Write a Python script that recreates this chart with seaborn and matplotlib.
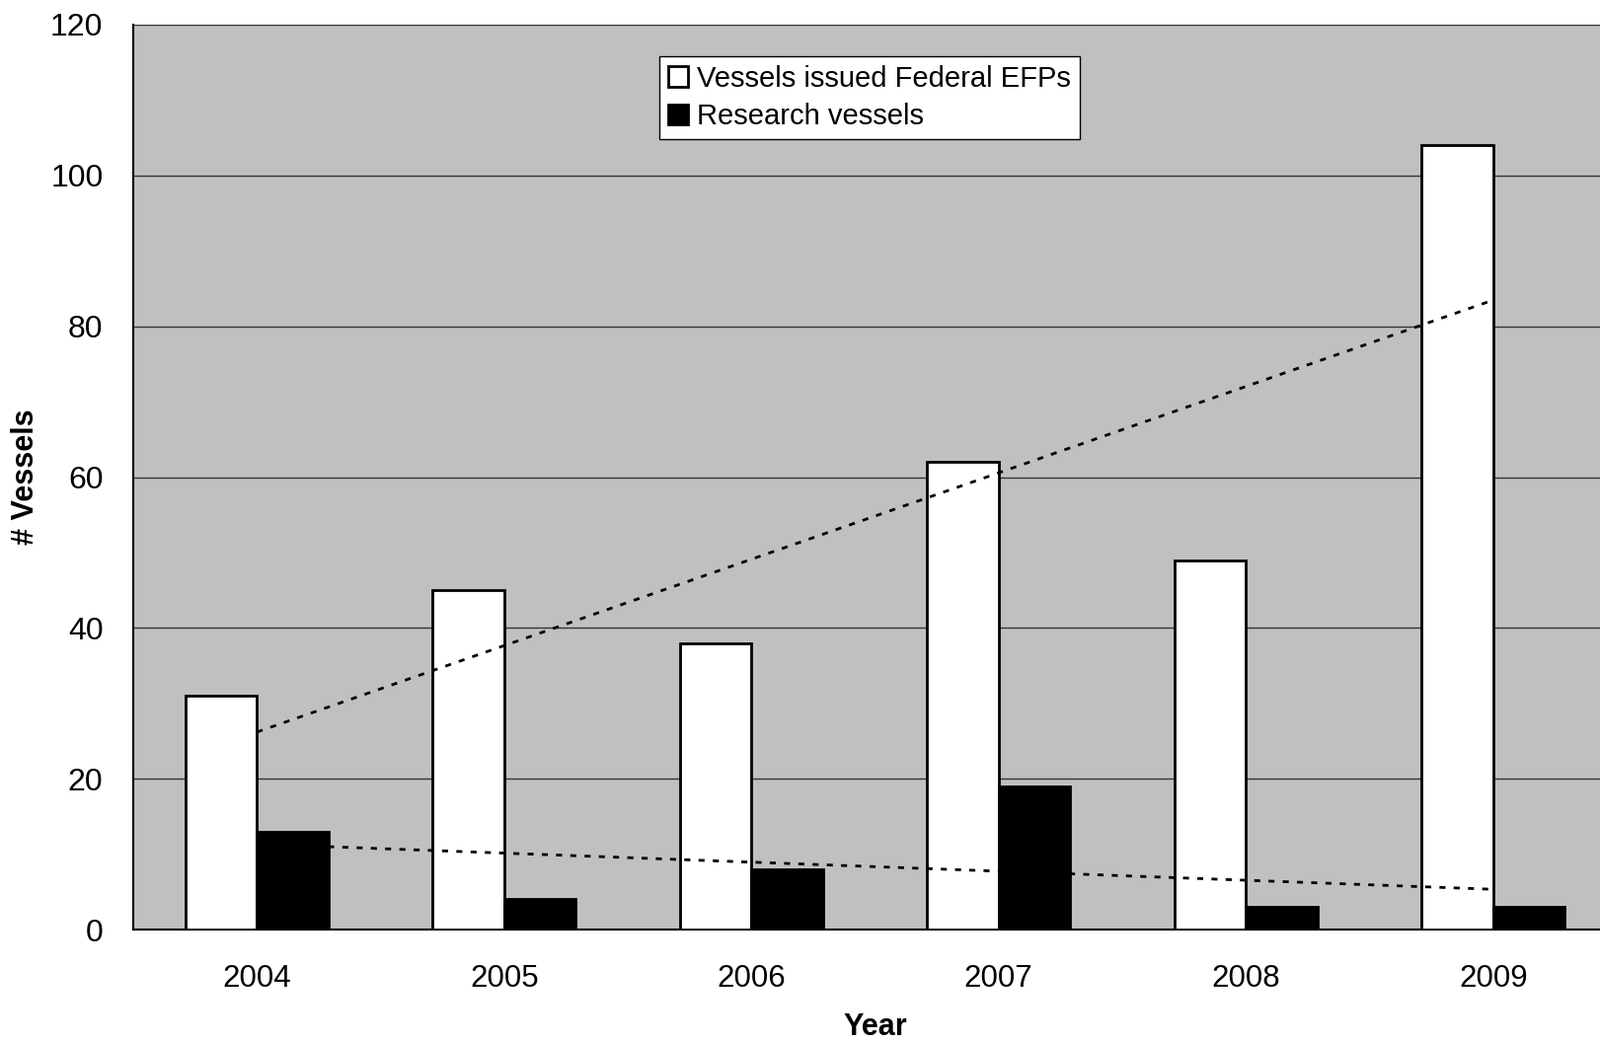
import matplotlib
matplotlib.use("Agg")
import matplotlib.pyplot as plt
from matplotlib.ticker import FixedLocator
import seaborn as sns
import pandas as pd

years = ["2004", "2005", "2006", "2007", "2008", "2009"]
efp_vessels = [31, 45, 38, 62, 49, 104]
research_vessels = [13, 4, 8, 19, 3, 3]
series_names = ["Vessels issued Federal EFPs", "Research vessels"]

sns.set_style("white")
plt.rcParams["font.family"] = ["Liberation Sans", "DejaVu Sans"]
plt.rcParams["text.color"] = "black"
plt.rcParams["axes.labelcolor"] = "black"
plt.rcParams["xtick.color"] = "black"
plt.rcParams["ytick.color"] = "black"

data = pd.DataFrame({
    "Year": years * 2,
    "Vessels": efp_vessels + research_vessels,
    "Series": [series_names[0]] * len(years) + [series_names[1]] * len(years),
})

fig = plt.figure(figsize=(16.21, 10.57), dpi=100)
ax = fig.add_axes([135 / 1621, 1 - 942 / 1057, 1503 / 1621, 917 / 1057])
ax.set_facecolor("#C0C0C0")

sns.barplot(data=data, x="Year", y="Vessels", hue="Series", order=years,
            palette=["white", "black"], width=0.58, edgecolor="black",
            linewidth=2, saturation=1, ax=ax, zorder=3, legend=True)

# linear trend lines, drawn over the bars
positions = list(range(len(years)))
for vals in (efp_vessels, research_vessels):
    sns.regplot(x=positions, y=vals, scatter=False, ci=None, truncate=True,
                ax=ax, line_kws=dict(color="black", lw=2, linestyle=(0, (2.2, 3)), zorder=4))

ax.set_xlim(-0.5, 5.5)
ax.set_ylim(0, 120)
ax.set_xlabel("")
ax.set_yticks(range(0, 121, 20))
ax.yaxis.grid(True, color="#333333", lw=1)
ax.set_axisbelow(True)

for side in ("top", "right"):
    ax.spines[side].set_visible(False)
for side in ("left", "bottom"):
    ax.spines[side].set_color("black")
    ax.spines[side].set_linewidth(1.5)

ax.tick_params(axis="y", which="major", direction="out", length=10, width=1,
               color="#444444", labelcolor="black", pad=12, labelsize=23)
ax.tick_params(axis="x", which="major", length=0, pad=25, labelsize=22.5, labelcolor="black")
ax.xaxis.set_minor_locator(FixedLocator([i + 0.5 for i in positions]))
ax.tick_params(axis="x", which="minor", direction="out", length=10, width=1, color="#444444")

ax.set_xlabel("Year", fontsize=22, fontweight="bold")
ax.set_ylabel("# Vessels", fontsize=22, fontweight="bold")
ax.xaxis.set_label_coords(0.5, -0.092)
ax.yaxis.set_label_coords(-0.0625, 0.5)

ax.get_legend().remove()
leg = ax.legend(loc="upper left", bbox_to_anchor=(668 / 1621, 1 - 57 / 1057),
                bbox_transform=fig.transFigure, borderaxespad=0, fontsize=21,
                frameon=True, fancybox=False, edgecolor="black", framealpha=1,
                handlelength=0.7, handleheight=0.7, handletextpad=0.3,
                labelspacing=0.36, borderpad=0.3)
leg.get_frame().set_linewidth(1)

fig.savefig("out.png", dpi=100)
